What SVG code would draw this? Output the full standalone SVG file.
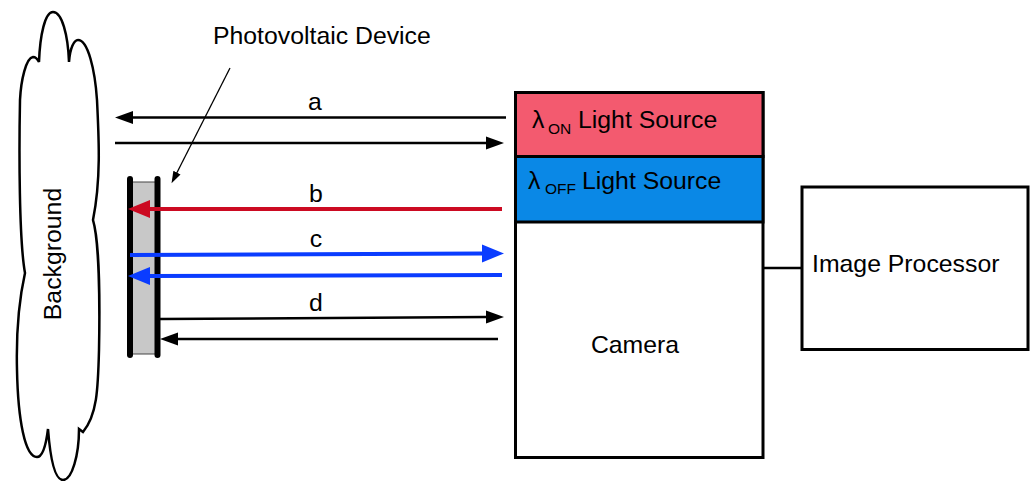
<svg xmlns="http://www.w3.org/2000/svg" width="1032" height="481" viewBox="0 0 1032 481">
<style>
text{font-family:"Liberation Sans",Arial,sans-serif;fill:#000}
.lbl{font-size:24.8px}
.sub{font-size:15.5px}
.box{stroke:#000;stroke-width:3}
.k{stroke:#000;stroke-width:2.5;fill:none}
.r{stroke:#CC0A22;stroke-width:4;fill:none}
.b{stroke:#0A3CFF;stroke-width:4;fill:none}
</style>
<defs>
<marker id="ak" markerUnits="userSpaceOnUse" markerWidth="20" markerHeight="14" viewBox="0 -7 20 14" refX="1" refY="0" orient="auto"><path d="M0,-6.5 L18,0 L0,6.5 Z" fill="#000"/></marker>
<marker id="ar" markerUnits="userSpaceOnUse" markerWidth="24" markerHeight="20" viewBox="0 -10 24 20" refX="1" refY="0" orient="auto"><path d="M0,-9 L22,0 L0,9 Z" fill="#CC0A22"/></marker>
<marker id="ab" markerUnits="userSpaceOnUse" markerWidth="24" markerHeight="20" viewBox="0 -10 24 20" refX="1" refY="0" orient="auto"><path d="M0,-9 L22,0 L0,9 Z" fill="#0A3CFF"/></marker>
<marker id="ap" markerUnits="userSpaceOnUse" markerWidth="14" markerHeight="10" viewBox="0 -5 14 10" refX="1" refY="0" orient="auto"><path d="M0,-4 L12,0 L0,4 Z" fill="#000"/></marker>
</defs>

<g id="background">
<path d="M20,100 C21,80 26,58 33,57 C36,57 38,60 39,62 C40,35 45,12 53,12 C62,12 68,35 69,62 C70,48 74,40 78,40 C88,40 95,70 97,100 C99,140 101,180 93,220 C99,240 100,300 99,350 C98,390 97,415 83,432 L79,429 C79,455 72,480 63,480 C54,480 50,455 48,429 C46,445 43,457 37,457 C25,457 18,420 17,370 C16,330 19,300 25,273 C19,240 19,150 20,100 Z" fill="#fff" stroke="#000" stroke-width="2.5"/>
<text class="lbl" text-anchor="middle" transform="translate(61,254) rotate(-90)">Background</text>
</g>

<g id="pv-device">
<rect x="130" y="182" width="27.5" height="172" fill="#C8C8C8" stroke="#444" stroke-width="1"/>
<line x1="130" y1="179" x2="130" y2="355" stroke="#000" stroke-width="6" stroke-linecap="round"/>
<line x1="157.5" y1="179" x2="157.5" y2="355" stroke="#000" stroke-width="6" stroke-linecap="round"/>
<text class="lbl" x="213" y="44">Photovoltaic Device</text>
</g>

<g id="camera">
<rect class="box" x="515.5" y="92.5" width="247.5" height="365" fill="#fff"/>
<rect class="box" x="515.5" y="92.5" width="247.5" height="64" fill="#F35A6F"/>
<rect class="box" x="515.5" y="156.5" width="247.5" height="65.5" fill="#0A88E6"/>
<text class="lbl" x="532" y="128">λ</text>
<text class="sub" x="548" y="134">ON</text>
<text class="lbl" x="578" y="128">Light Source</text>
<text class="lbl" x="528" y="189">λ</text>
<text class="sub" x="545" y="194">OFF</text>
<text class="lbl" x="582" y="189">Light Source</text>
<text class="lbl" x="635" y="353" text-anchor="middle">Camera</text>
</g>

<g id="image-processor">
<rect class="box" x="802" y="187" width="226" height="162.5" fill="#fff"/>
<text class="lbl" x="812" y="272">Image Processor</text>
</g>

<g id="connectors">
<line x1="230" y1="68" x2="176.5" y2="173.5" stroke="#000" stroke-width="1.3" marker-end="url(#ap)"/>
<line x1="506" y1="117.5" x2="132" y2="117.5" class="k" marker-end="url(#ak)"/>
<line x1="115" y1="143" x2="487" y2="143" class="k" marker-end="url(#ak)"/>
<line x1="502" y1="209" x2="149" y2="209" class="r" marker-end="url(#ar)"/>
<line x1="130" y1="255" x2="483" y2="253.5" class="b" marker-end="url(#ab)"/>
<line x1="502" y1="275" x2="149" y2="276" class="b" marker-end="url(#ab)"/>
<line x1="160" y1="319" x2="487" y2="317" class="k" marker-end="url(#ak)"/>
<line x1="498" y1="339" x2="177" y2="339" class="k" marker-end="url(#ak)"/>
<line x1="763" y1="268" x2="802" y2="268" stroke="#000" stroke-width="2.5"/>
<text class="lbl" x="315" y="110" text-anchor="middle">a</text>
<text class="lbl" x="316" y="202" text-anchor="middle">b</text>
<text class="lbl" x="316" y="247" text-anchor="middle">c</text>
<text class="lbl" x="316" y="311" text-anchor="middle">d</text>
</g>
</svg>
